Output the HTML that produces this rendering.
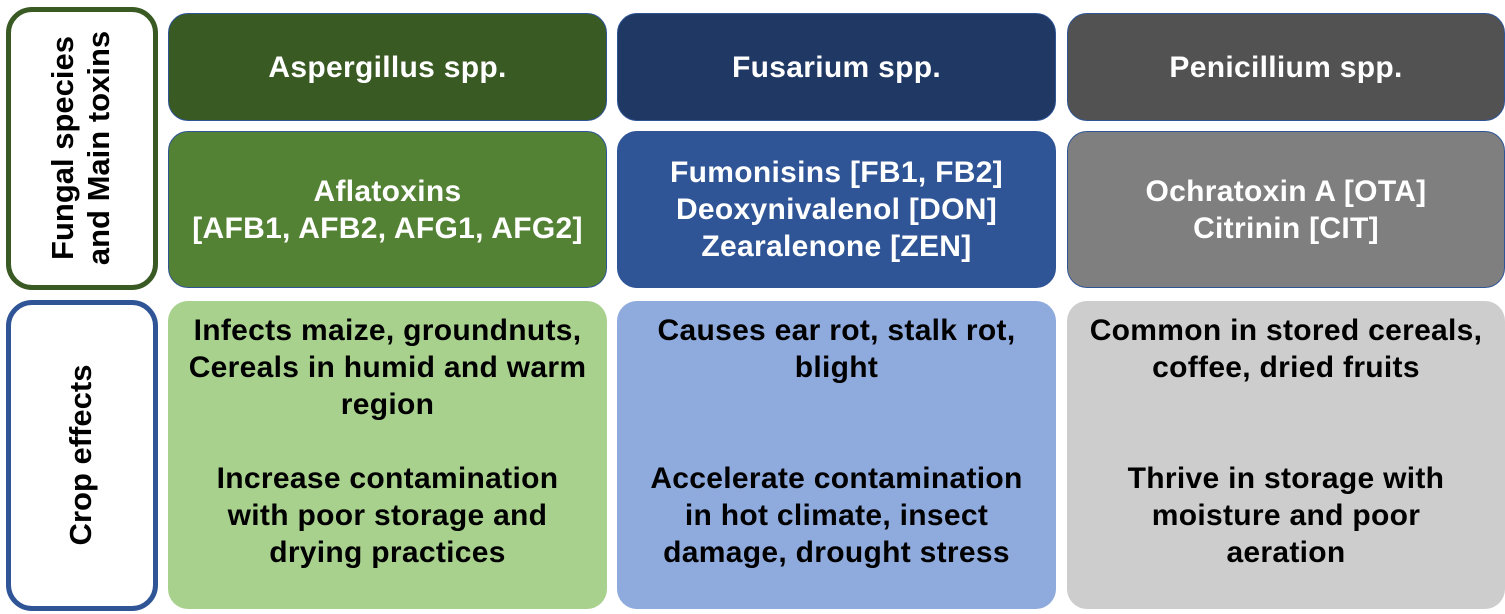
<!DOCTYPE html>
<html><head><style>
body{margin:0;width:1505px;height:614px;background:#fff;position:relative;font-family:"Liberation Sans",sans-serif;overflow:hidden}
.b{position:absolute;box-sizing:border-box;border:1px solid #2f5597;border-radius:20px;display:flex;align-items:center;justify-content:center;text-align:center;font-weight:bold;font-size:30px;line-height:37px;color:#fff;letter-spacing:0.3px}
.lab{position:absolute;box-sizing:border-box;background:#fff;border-radius:26px;border:5px solid #3a5a24}
.v{position:absolute;transform:rotate(-90deg);font-weight:bold;font-size:31px;line-height:36px;text-align:center;color:#000;white-space:nowrap}
.dk{color:#000}
</style></head><body>
<div class="lab" style="left:6px;top:7px;width:152px;height:283px"></div>
<div class="v" style="left:-49px;top:112px;width:260px;height:72px">Fungal species<br>and Main toxins</div>
<div class="lab" style="left:6px;top:300px;width:152px;height:311px;border-color:#2f5597"></div>
<div class="v" style="left:-49px;top:437px;width:260px;height:36px">Crop effects</div>

<div class="b" style="left:168px;top:13px;width:439px;height:108px;background:#3a5a24">Aspergillus spp.</div>
<div class="b" style="left:617px;top:13px;width:439px;height:108px;background:#203864">Fusarium spp.</div>
<div class="b" style="left:1067px;top:13px;width:438px;height:108px;background:#525252">Penicillium spp.</div>

<div class="b" style="left:168px;top:131px;width:439px;height:157px;background:#548235">Aflatoxins<br>[AFB1, AFB2, AFG1, AFG2]</div>
<div class="b" style="left:617px;top:131px;width:439px;height:157px;background:#2f5597">Fumonisins [FB1, FB2]<br>Deoxynivalenol [DON]<br>Zearalenone [ZEN]</div>
<div class="b" style="left:1067px;top:131px;width:438px;height:157px;background:#7f7f7f">Ochratoxin A [OTA]<br>Citrinin [CIT]</div>

<div class="b dk" style="left:168px;top:301px;width:439px;height:308px;background:#a9d18e;border:none;align-items:flex-start;padding-top:11px">Infects maize, groundnuts,<br>Cereals in humid and warm<br>region<br><br>Increase contamination<br>with poor storage and<br>drying practices</div>
<div class="b dk" style="left:617px;top:301px;width:439px;height:308px;background:#8faadc;border:none;align-items:flex-start;padding-top:11px">Causes ear rot, stalk rot,<br>blight<br><br><br>Accelerate contamination<br>in hot climate, insect<br>damage, drought stress</div>
<div class="b dk" style="left:1067px;top:301px;width:438px;height:308px;background:#cdcdcd;border:none;align-items:flex-start;padding-top:11px">Common in stored cereals,<br>coffee, dried fruits<br><br><br>Thrive in storage with<br>moisture and poor<br>aeration</div>
</body></html>
